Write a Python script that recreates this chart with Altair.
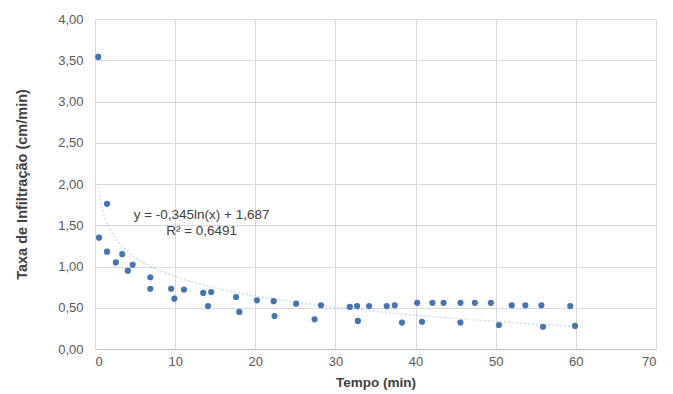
import altair as alt
import pandas as pd

tempo = [0.4, 0.5, 1.5, 1.5, 2.6, 3.4, 4.1, 4.7, 6.9, 6.9, 9.5, 9.9, 11.1, 13.5, 14.1, 14.5,
         17.6, 18.0, 20.2, 22.3, 22.4, 25.1, 27.4, 28.2, 31.8, 32.7, 32.8, 34.2, 36.4, 37.4,
         38.3, 40.2, 40.8, 42.1, 43.5, 45.6, 45.6, 47.4, 49.4, 50.4, 52.0, 53.7, 55.7, 55.9,
         59.3, 59.9]
taxa = [3.54, 1.35, 1.76, 1.18, 1.05, 1.15, 0.95, 1.02, 0.87, 0.73, 0.73, 0.61, 0.72, 0.68,
        0.52, 0.69, 0.63, 0.45, 0.59, 0.58, 0.40, 0.55, 0.36, 0.53, 0.51, 0.52, 0.34, 0.52,
        0.52, 0.53, 0.32, 0.56, 0.33, 0.56, 0.56, 0.56, 0.32, 0.56, 0.56, 0.29, 0.53, 0.53,
        0.53, 0.27, 0.52, 0.28]

eq_text = ["y = -0,345ln(x) + 1,687", "R² = 0,6491"]
eq_x = [13.3, 13.3]
eq_y = [1.625, 1.43]

df = pd.DataFrame({"tempo": tempo, "taxa": taxa})
df_eq = pd.DataFrame({"t": eq_text, "x": eq_x, "y": eq_y})

FONT = "Liberation Sans"
fmt = "replace(format(datum.value, '.2f'), '.', ',')"

xscale = alt.Scale(domain=[0, 70], nice=False)
yscale = alt.Scale(domain=[0, 4], nice=False)

xaxis = alt.Axis(values=list(range(0, 71, 10)), title="Tempo (min)", labelFont=FONT,
                 labelFontSize=13, labelColor="#595959", titleFont=FONT, titleFontSize=13.5,
                 titleFontWeight="bold", titleColor="#404040", labelPadding=6, titlePadding=7,
                 ticks=False, domainColor="#bfbfbf", gridColor="#d9d9d9")
yaxis = alt.Axis(values=[0, 0.5, 1, 1.5, 2, 2.5, 3, 3.5, 4], labelExpr=fmt,
                 title="Taxa de Infiltração (cm/min)", labelFont=FONT, labelFontSize=13,
                 labelColor="#595959", titleFont=FONT, titleFontSize=14.5, titleFontWeight="bold",
                 titleColor="#404040", labelPadding=12, titlePadding=28, ticks=False,
                 domain=False, gridColor="#d9d9d9")

base = alt.Chart(df)

pts = base.mark_circle(size=38, color="#4674b0", opacity=1).encode(
    x=alt.X("tempo:Q", scale=xscale, axis=xaxis),
    y=alt.Y("taxa:Q", scale=yscale, axis=yaxis),
)

trend = base.transform_regression("tempo", "taxa", method="log").mark_line(
    color="#a9c8e8", strokeWidth=1.5, strokeDash=[2, 2], opacity=0.6
).encode(
    x=alt.X("tempo:Q", scale=xscale),
    y=alt.Y("taxa:Q", scale=yscale),
)

eq = alt.Chart(df_eq).mark_text(font=FONT, fontSize=13.5, color="#404040", align="center",
                                baseline="middle").encode(
    x=alt.X("x:Q", scale=xscale),
    y=alt.Y("y:Q", scale=yscale),
    text="t:N",
)

chart = alt.layer(trend, pts, eq).properties(
    width=561, height=330,
    autosize=alt.AutoSizeParams(type="none"),
    padding={"left": 95, "top": 19, "right": 17, "bottom": 45},
    background="white",
).configure_view(stroke=None)

chart.save("out.html", embed_options={"renderer": "svg", "actions": False})
